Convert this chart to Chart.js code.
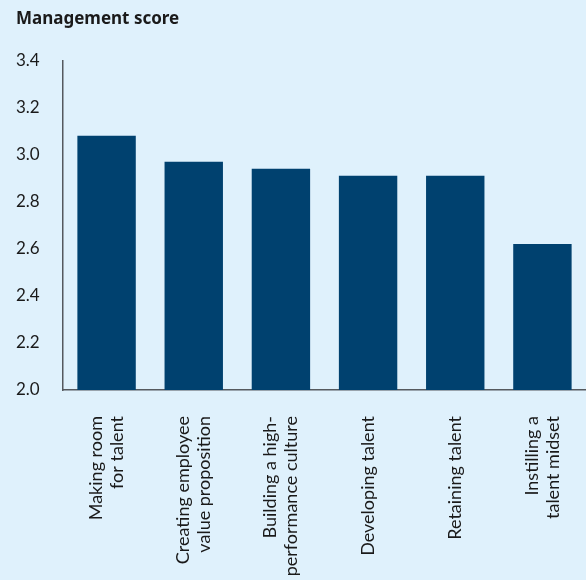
<!DOCTYPE html>
<html>
<head>
<meta charset="utf-8">
<script src="https://cdn.jsdelivr.net/npm/chart.js@4"></script>
<style>
  html, body { margin: 0; padding: 0; background: #dff1fc; }
  #wrap { width: 586px; height: 580px; position: relative; }
</style>
</head>
<body>
<div id="wrap"><canvas id="chart"></canvas></div>
<script>
// categories (multi-line labels as in the reference)
const categories = [
    ['Making room', 'for talent'],
    ['Creating employee', 'value proposition'],
    ['Building a high-', 'performance culture'],
    ['Developing talent'],
    ['Retaining talent'],
    ['Instilling a', 'talent midset']
]
const scores = [3.08, 2.97, 2.94, 2.91, 2.91, 2.62]
const yTicks = [2.0, 2.2, 2.4, 2.6, 2.8, 3.0, 3.2, 3.4]

const fontFamily = 'Lato, "Noto Sans", sans-serif'
const textColor = '#1a1a1a'
const axisColor = '#55595e'
const labelSize = 18
const labelLineHeight = 1.15

// rotated multi-line labels start at the tick; center them on the bar instead
const centerLabels = {
    id: 'centerLabels',
    beforeDraw(chart) {
        const scale = chart.scales.x
        scale.getLabelItems().forEach(item => {
            if (item._centered) return
            const lines = Array.isArray(item.label) ? item.label.length : 1
            item.options.translation[0] -= (lines - 1) * labelSize * labelLineHeight / 2
            item._centered = true
        })
    }
}

const ctx = document.getElementById('chart').getContext('2d')
new Chart(ctx, {
    type: 'bar',
    data: {
        labels: categories,
        datasets: [{
            label: 'Management score',
            data: scores,
            backgroundColor: '#00416f',
            barPercentage: 0.67,
            categoryPercentage: 1.0,
        }]
    },
    plugins: [centerLabels],
    options: {
        responsive: true,
        maintainAspectRatio: false,
        animation: false,
        layout: {
            padding: {left: 16, right: 0, top: 9, bottom: 0}
        },
        plugins: {
            legend: {display: false},
            tooltip: {enabled: false},
            title: {
                display: true,
                text: 'Management score',
                align: 'start',
                color: textColor,
                font: {family: '"Noto Sans", Lato, sans-serif', size: 17, weight: 'bold'},
                padding: {top: 0, bottom: 31}
            }
        },
        scales: {
            x: {
                grid: {display: false, drawTicks: false},
                border: {display: true, color: axisColor, width: 1.5},
                ticks: {
                    color: textColor,
                    font: {family: fontFamily, size: labelSize, lineHeight: labelLineHeight},
                    maxRotation: 90,
                    minRotation: 90,
                    padding: 26,
                    autoSkip: false
                },
                afterFit: (axis) => {
                    axis.height = 190
                    axis.paddingLeft = 0
                    axis.paddingRight = 0
                }
            },
            y: {
                min: 2.0,
                max: 3.4,
                grid: {display: false, drawTicks: false},
                border: {display: true, color: axisColor, width: 1.5},
                afterBuildTicks: (axis) => { axis.ticks = yTicks.map(v => ({value: v})) },
                ticks: {
                    color: textColor,
                    font: {family: fontFamily, size: 17},
                    padding: 22,
                    crossAlign: 'far',
                    callback: (v) => Number(v).toFixed(1)
                },
                afterFit: (axis) => {
                    axis.width = 47
                    axis.paddingTop = 0
                    axis.paddingBottom = 0
                }
            }
        }
    }
})
</script>
</body>
</html>
